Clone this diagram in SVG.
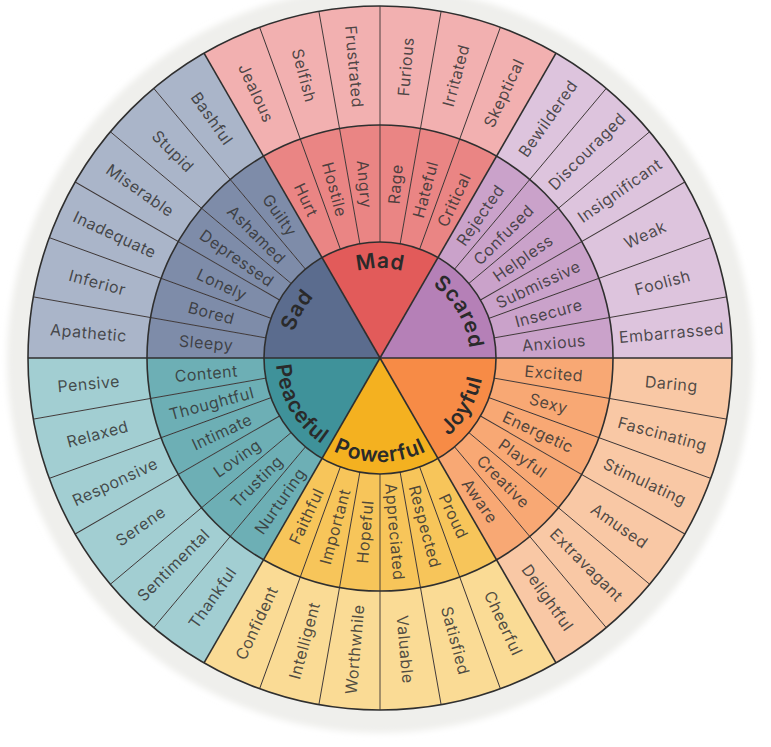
<svg xmlns="http://www.w3.org/2000/svg" width="771" height="747" viewBox="0 0 771 747">
<style>
.t{font-family:Inter,"Open Sans","Liberation Sans",sans-serif;font-size:16px;fill:#333;fill-opacity:.85;text-anchor:middle;dominant-baseline:central;letter-spacing:.5px}
.c{font-family:Inter,"Open Sans","Liberation Sans",sans-serif;font-size:21px;font-weight:600;fill:#2a2a2a;text-anchor:middle;letter-spacing:.7px}
.sub{stroke:#3a3333;stroke-width:.9}
.main{stroke:#2f2f2f;stroke-width:1.6}
.ring{fill:none;stroke:#2f2f2f;stroke-width:1.6}
</style>
<defs>
<filter id="soft" x="-10%" y="-10%" width="120%" height="120%"><feGaussianBlur stdDeviation="3"/></filter>
<path id="k" d="M380 358 L496 358 A116 116 0 0 1 438 458.46 Z"/>
<path id="m" d="M496 358 L613 358 A233 233 0 0 1 609.46 398.46 L494.24 378.14 A116 116 0 0 0 496 358 Z"/>
<path id="o" d="M613 358 L732 358 A352 352 0 0 1 726.65 419.12 L609.46 398.46 A233 233 0 0 0 613 358 Z"/>
<line id="sl" x1="496" y1="358" x2="732" y2="358"/>
<line id="ml" x1="380" y1="358" x2="732" y2="358"/>
<path id="arcTop" d="M290 358 A90 90 0 0 1 470 358"/>
<path id="arcBot" d="M276 358 A104 104 0 0 0 484 358"/>
</defs>
<rect width="771" height="747" fill="#fff"/>
<circle cx="380" cy="360" r="373" fill="#efefec" filter="url(#soft)"/>

<!-- Mad -->
<g id="mad"><use href="#k" transform="rotate(-120 380 358)" fill="#e25b5a"/><text class="c"><textPath href="#arcTop" startOffset="50%">Mad</textPath></text></g>
<g id="mad-hurt"><use href="#m" transform="rotate(-120 380 358)" fill="#ea8584"/><text class="t" x="205.5" y="358" transform="rotate(65 380 358)">Hurt</text></g>
<g id="mad-hostile"><use href="#m" transform="rotate(-110 380 358)" fill="#ea8584"/><text class="t" x="205.5" y="358" transform="rotate(75 380 358)">Hostile</text></g>
<g id="mad-angry"><use href="#m" transform="rotate(-100 380 358)" fill="#ea8584"/><text class="t" x="205.5" y="358" transform="rotate(85 380 358)">Angry</text></g>
<g id="mad-rage"><use href="#m" transform="rotate(-90 380 358)" fill="#ea8584"/><text class="t" x="554.5" y="358" transform="rotate(-85 380 358)">Rage</text></g>
<g id="mad-hateful"><use href="#m" transform="rotate(-80 380 358)" fill="#ea8584"/><text class="t" x="554.5" y="358" transform="rotate(-75 380 358)">Hateful</text></g>
<g id="mad-critical"><use href="#m" transform="rotate(-70 380 358)" fill="#ea8584"/><text class="t" x="554.5" y="358" transform="rotate(-65 380 358)">Critical</text></g>
<g id="mad-jealous"><use href="#o" transform="rotate(-120 380 358)" fill="#f2b0b0"/><text class="t" x="87.5" y="358" transform="rotate(65 380 358)">Jealous</text></g>
<g id="mad-selfish"><use href="#o" transform="rotate(-110 380 358)" fill="#f2b0b0"/><text class="t" x="87.5" y="358" transform="rotate(75 380 358)">Selfish</text></g>
<g id="mad-frustrated"><use href="#o" transform="rotate(-100 380 358)" fill="#f2b0b0"/><text class="t" x="87.5" y="358" transform="rotate(85 380 358)">Frustrated</text></g>
<g id="mad-furious"><use href="#o" transform="rotate(-90 380 358)" fill="#f2b0b0"/><text class="t" x="672.5" y="358" transform="rotate(-85 380 358)">Furious</text></g>
<g id="mad-irritated"><use href="#o" transform="rotate(-80 380 358)" fill="#f2b0b0"/><text class="t" x="672.5" y="358" transform="rotate(-75 380 358)">Irritated</text></g>
<g id="mad-skeptical"><use href="#o" transform="rotate(-70 380 358)" fill="#f2b0b0"/><text class="t" x="672.5" y="358" transform="rotate(-65 380 358)">Skeptical</text></g>

<!-- Scared -->
<g id="scared"><use href="#k" transform="rotate(-60 380 358)" fill="#b580b7"/><text class="c"><textPath href="#arcTop" startOffset="83.33%">Scared</textPath></text></g>
<g id="scared-rejected"><use href="#m" transform="rotate(-60 380 358)" fill="#caa2ca"/><text class="t" x="554.5" y="358" transform="rotate(-55 380 358)">Rejected</text></g>
<g id="scared-confused"><use href="#m" transform="rotate(-50 380 358)" fill="#caa2ca"/><text class="t" x="554.5" y="358" transform="rotate(-45 380 358)">Confused</text></g>
<g id="scared-helpless"><use href="#m" transform="rotate(-40 380 358)" fill="#caa2ca"/><text class="t" x="554.5" y="358" transform="rotate(-35 380 358)">Helpless</text></g>
<g id="scared-submissive"><use href="#m" transform="rotate(-30 380 358)" fill="#caa2ca"/><text class="t" x="554.5" y="358" transform="rotate(-25 380 358)">Submissive</text></g>
<g id="scared-insecure"><use href="#m" transform="rotate(-20 380 358)" fill="#caa2ca"/><text class="t" x="554.5" y="358" transform="rotate(-15 380 358)">Insecure</text></g>
<g id="scared-anxious"><use href="#m" transform="rotate(-10 380 358)" fill="#caa2ca"/><text class="t" x="554.5" y="358" transform="rotate(-5 380 358)">Anxious</text></g>
<g id="scared-bewildered"><use href="#o" transform="rotate(-60 380 358)" fill="#ddc4dd"/><text class="t" x="672.5" y="358" transform="rotate(-55 380 358)">Bewildered</text></g>
<g id="scared-discouraged"><use href="#o" transform="rotate(-50 380 358)" fill="#ddc4dd"/><text class="t" x="672.5" y="358" transform="rotate(-45 380 358)">Discouraged</text></g>
<g id="scared-insignificant"><use href="#o" transform="rotate(-40 380 358)" fill="#ddc4dd"/><text class="t" x="672.5" y="358" transform="rotate(-35 380 358)">Insignificant</text></g>
<g id="scared-weak"><use href="#o" transform="rotate(-30 380 358)" fill="#ddc4dd"/><text class="t" x="672.5" y="358" transform="rotate(-25 380 358)">Weak</text></g>
<g id="scared-foolish"><use href="#o" transform="rotate(-20 380 358)" fill="#ddc4dd"/><text class="t" x="672.5" y="358" transform="rotate(-15 380 358)">Foolish</text></g>
<g id="scared-embarrassed"><use href="#o" transform="rotate(-10 380 358)" fill="#ddc4dd"/><text class="t" x="672.5" y="358" transform="rotate(-5 380 358)">Embarrassed</text></g>

<!-- Joyful -->
<g id="joyful"><use href="#k" transform="rotate(0 380 358)" fill="#f78b46"/><text class="c"><textPath href="#arcBot" startOffset="83.33%">Joyful</textPath></text></g>
<g id="joyful-excited"><use href="#m" transform="rotate(0 380 358)" fill="#f8a874"/><text class="t" x="554.5" y="358" transform="rotate(5 380 358)">Excited</text></g>
<g id="joyful-sexy"><use href="#m" transform="rotate(10 380 358)" fill="#f8a874"/><text class="t" x="554.5" y="358" transform="rotate(15 380 358)">Sexy</text></g>
<g id="joyful-energetic"><use href="#m" transform="rotate(20 380 358)" fill="#f8a874"/><text class="t" x="554.5" y="358" transform="rotate(25 380 358)">Energetic</text></g>
<g id="joyful-playful"><use href="#m" transform="rotate(30 380 358)" fill="#f8a874"/><text class="t" x="554.5" y="358" transform="rotate(35 380 358)">Playful</text></g>
<g id="joyful-creative"><use href="#m" transform="rotate(40 380 358)" fill="#f8a874"/><text class="t" x="554.5" y="358" transform="rotate(45 380 358)">Creative</text></g>
<g id="joyful-aware"><use href="#m" transform="rotate(50 380 358)" fill="#f8a874"/><text class="t" x="554.5" y="358" transform="rotate(55 380 358)">Aware</text></g>
<g id="joyful-daring"><use href="#o" transform="rotate(0 380 358)" fill="#f9c8a5"/><text class="t" x="672.5" y="358" transform="rotate(5 380 358)">Daring</text></g>
<g id="joyful-fascinating"><use href="#o" transform="rotate(10 380 358)" fill="#f9c8a5"/><text class="t" x="672.5" y="358" transform="rotate(15 380 358)">Fascinating</text></g>
<g id="joyful-stimulating"><use href="#o" transform="rotate(20 380 358)" fill="#f9c8a5"/><text class="t" x="672.5" y="358" transform="rotate(25 380 358)">Stimulating</text></g>
<g id="joyful-amused"><use href="#o" transform="rotate(30 380 358)" fill="#f9c8a5"/><text class="t" x="672.5" y="358" transform="rotate(35 380 358)">Amused</text></g>
<g id="joyful-extravagant"><use href="#o" transform="rotate(40 380 358)" fill="#f9c8a5"/><text class="t" x="672.5" y="358" transform="rotate(45 380 358)">Extravagant</text></g>
<g id="joyful-delightful"><use href="#o" transform="rotate(50 380 358)" fill="#f9c8a5"/><text class="t" x="672.5" y="358" transform="rotate(55 380 358)">Delightful</text></g>

<!-- Powerful -->
<g id="powerful"><use href="#k" transform="rotate(60 380 358)" fill="#f4b120"/><text class="c"><textPath href="#arcBot" startOffset="50%">Powerful</textPath></text></g>
<g id="powerful-proud"><use href="#m" transform="rotate(60 380 358)" fill="#f7c55a"/><text class="t" x="554.5" y="358" transform="rotate(65 380 358)">Proud</text></g>
<g id="powerful-respected"><use href="#m" transform="rotate(70 380 358)" fill="#f7c55a"/><text class="t" x="554.5" y="358" transform="rotate(75 380 358)">Respected</text></g>
<g id="powerful-appreciated"><use href="#m" transform="rotate(80 380 358)" fill="#f7c55a"/><text class="t" x="554.5" y="358" transform="rotate(85 380 358)">Appreciated</text></g>
<g id="powerful-hopeful"><use href="#m" transform="rotate(90 380 358)" fill="#f7c55a"/><text class="t" x="205.5" y="358" transform="rotate(-85 380 358)">Hopeful</text></g>
<g id="powerful-important"><use href="#m" transform="rotate(100 380 358)" fill="#f7c55a"/><text class="t" x="205.5" y="358" transform="rotate(-75 380 358)">Important</text></g>
<g id="powerful-faithful"><use href="#m" transform="rotate(110 380 358)" fill="#f7c55a"/><text class="t" x="205.5" y="358" transform="rotate(-65 380 358)">Faithful</text></g>
<g id="powerful-cheerful"><use href="#o" transform="rotate(60 380 358)" fill="#fadb95"/><text class="t" x="672.5" y="358" transform="rotate(65 380 358)">Cheerful</text></g>
<g id="powerful-satisfied"><use href="#o" transform="rotate(70 380 358)" fill="#fadb95"/><text class="t" x="672.5" y="358" transform="rotate(75 380 358)">Satisfied</text></g>
<g id="powerful-valuable"><use href="#o" transform="rotate(80 380 358)" fill="#fadb95"/><text class="t" x="672.5" y="358" transform="rotate(85 380 358)">Valuable</text></g>
<g id="powerful-worthwhile"><use href="#o" transform="rotate(90 380 358)" fill="#fadb95"/><text class="t" x="87.5" y="358" transform="rotate(-85 380 358)">Worthwhile</text></g>
<g id="powerful-intelligent"><use href="#o" transform="rotate(100 380 358)" fill="#fadb95"/><text class="t" x="87.5" y="358" transform="rotate(-75 380 358)">Intelligent</text></g>
<g id="powerful-confident"><use href="#o" transform="rotate(110 380 358)" fill="#fadb95"/><text class="t" x="87.5" y="358" transform="rotate(-65 380 358)">Confident</text></g>

<!-- Peaceful -->
<g id="peaceful"><use href="#k" transform="rotate(120 380 358)" fill="#3f929a"/><text class="c"><textPath href="#arcBot" startOffset="16.67%">Peaceful</textPath></text></g>
<g id="peaceful-nurturing"><use href="#m" transform="rotate(120 380 358)" fill="#6dafb5"/><text class="t" x="205.5" y="358" transform="rotate(-55 380 358)">Nurturing</text></g>
<g id="peaceful-trusting"><use href="#m" transform="rotate(130 380 358)" fill="#6dafb5"/><text class="t" x="205.5" y="358" transform="rotate(-45 380 358)">Trusting</text></g>
<g id="peaceful-loving"><use href="#m" transform="rotate(140 380 358)" fill="#6dafb5"/><text class="t" x="205.5" y="358" transform="rotate(-35 380 358)">Loving</text></g>
<g id="peaceful-intimate"><use href="#m" transform="rotate(150 380 358)" fill="#6dafb5"/><text class="t" x="205.5" y="358" transform="rotate(-25 380 358)">Intimate</text></g>
<g id="peaceful-thoughtful"><use href="#m" transform="rotate(160 380 358)" fill="#6dafb5"/><text class="t" x="205.5" y="358" transform="rotate(-15 380 358)">Thoughtful</text></g>
<g id="peaceful-content"><use href="#m" transform="rotate(170 380 358)" fill="#6dafb5"/><text class="t" x="205.5" y="358" transform="rotate(-5 380 358)">Content</text></g>
<g id="peaceful-thankful"><use href="#o" transform="rotate(120 380 358)" fill="#a2ced2"/><text class="t" x="87.5" y="358" transform="rotate(-55 380 358)">Thankful</text></g>
<g id="peaceful-sentimental"><use href="#o" transform="rotate(130 380 358)" fill="#a2ced2"/><text class="t" x="87.5" y="358" transform="rotate(-45 380 358)">Sentimental</text></g>
<g id="peaceful-serene"><use href="#o" transform="rotate(140 380 358)" fill="#a2ced2"/><text class="t" x="87.5" y="358" transform="rotate(-35 380 358)">Serene</text></g>
<g id="peaceful-responsive"><use href="#o" transform="rotate(150 380 358)" fill="#a2ced2"/><text class="t" x="87.5" y="358" transform="rotate(-25 380 358)">Responsive</text></g>
<g id="peaceful-relaxed"><use href="#o" transform="rotate(160 380 358)" fill="#a2ced2"/><text class="t" x="87.5" y="358" transform="rotate(-15 380 358)">Relaxed</text></g>
<g id="peaceful-pensive"><use href="#o" transform="rotate(170 380 358)" fill="#a2ced2"/><text class="t" x="87.5" y="358" transform="rotate(-5 380 358)">Pensive</text></g>

<!-- Sad -->
<g id="sad"><use href="#k" transform="rotate(180 380 358)" fill="#5b6c8e"/><text class="c"><textPath href="#arcTop" startOffset="16.67%">Sad</textPath></text></g>
<g id="sad-sleepy"><use href="#m" transform="rotate(180 380 358)" fill="#7e8ca9"/><text class="t" x="205.5" y="358" transform="rotate(5 380 358)">Sleepy</text></g>
<g id="sad-bored"><use href="#m" transform="rotate(190 380 358)" fill="#7e8ca9"/><text class="t" x="205.5" y="358" transform="rotate(15 380 358)">Bored</text></g>
<g id="sad-lonely"><use href="#m" transform="rotate(200 380 358)" fill="#7e8ca9"/><text class="t" x="205.5" y="358" transform="rotate(25 380 358)">Lonely</text></g>
<g id="sad-depressed"><use href="#m" transform="rotate(210 380 358)" fill="#7e8ca9"/><text class="t" x="205.5" y="358" transform="rotate(35 380 358)">Depressed</text></g>
<g id="sad-ashamed"><use href="#m" transform="rotate(220 380 358)" fill="#7e8ca9"/><text class="t" x="205.5" y="358" transform="rotate(45 380 358)">Ashamed</text></g>
<g id="sad-guilty"><use href="#m" transform="rotate(230 380 358)" fill="#7e8ca9"/><text class="t" x="205.5" y="358" transform="rotate(55 380 358)">Guilty</text></g>
<g id="sad-apathetic"><use href="#o" transform="rotate(180 380 358)" fill="#aab5c9"/><text class="t" x="87.5" y="358" transform="rotate(5 380 358)">Apathetic</text></g>
<g id="sad-inferior"><use href="#o" transform="rotate(190 380 358)" fill="#aab5c9"/><text class="t" x="87.5" y="358" transform="rotate(15 380 358)">Inferior</text></g>
<g id="sad-inadequate"><use href="#o" transform="rotate(200 380 358)" fill="#aab5c9"/><text class="t" x="87.5" y="358" transform="rotate(25 380 358)">Inadequate</text></g>
<g id="sad-miserable"><use href="#o" transform="rotate(210 380 358)" fill="#aab5c9"/><text class="t" x="87.5" y="358" transform="rotate(35 380 358)">Miserable</text></g>
<g id="sad-stupid"><use href="#o" transform="rotate(220 380 358)" fill="#aab5c9"/><text class="t" x="87.5" y="358" transform="rotate(45 380 358)">Stupid</text></g>
<g id="sad-bashful"><use href="#o" transform="rotate(230 380 358)" fill="#aab5c9"/><text class="t" x="87.5" y="358" transform="rotate(55 380 358)">Bashful</text></g>

<g id="connectors">
<g class="sub">
<use href="#sl" transform="rotate(10 380 358)"/><use href="#sl" transform="rotate(20 380 358)"/><use href="#sl" transform="rotate(30 380 358)"/><use href="#sl" transform="rotate(40 380 358)"/><use href="#sl" transform="rotate(50 380 358)"/>
<use href="#sl" transform="rotate(70 380 358)"/><use href="#sl" transform="rotate(80 380 358)"/><use href="#sl" transform="rotate(90 380 358)"/><use href="#sl" transform="rotate(100 380 358)"/><use href="#sl" transform="rotate(110 380 358)"/>
<use href="#sl" transform="rotate(130 380 358)"/><use href="#sl" transform="rotate(140 380 358)"/><use href="#sl" transform="rotate(150 380 358)"/><use href="#sl" transform="rotate(160 380 358)"/><use href="#sl" transform="rotate(170 380 358)"/>
<use href="#sl" transform="rotate(190 380 358)"/><use href="#sl" transform="rotate(200 380 358)"/><use href="#sl" transform="rotate(210 380 358)"/><use href="#sl" transform="rotate(220 380 358)"/><use href="#sl" transform="rotate(230 380 358)"/>
<use href="#sl" transform="rotate(250 380 358)"/><use href="#sl" transform="rotate(260 380 358)"/><use href="#sl" transform="rotate(270 380 358)"/><use href="#sl" transform="rotate(280 380 358)"/><use href="#sl" transform="rotate(290 380 358)"/>
<use href="#sl" transform="rotate(310 380 358)"/><use href="#sl" transform="rotate(320 380 358)"/><use href="#sl" transform="rotate(330 380 358)"/><use href="#sl" transform="rotate(340 380 358)"/><use href="#sl" transform="rotate(350 380 358)"/>
</g>
<g class="main">
<use href="#ml"/><use href="#ml" transform="rotate(60 380 358)"/><use href="#ml" transform="rotate(120 380 358)"/><use href="#ml" transform="rotate(180 380 358)"/><use href="#ml" transform="rotate(240 380 358)"/><use href="#ml" transform="rotate(300 380 358)"/>
</g>
<circle class="ring" cx="380" cy="358" r="116"/>
<circle class="ring" cx="380" cy="358" r="233"/>
<circle class="ring" cx="380" cy="358" r="352"/>
</g>
</svg>
